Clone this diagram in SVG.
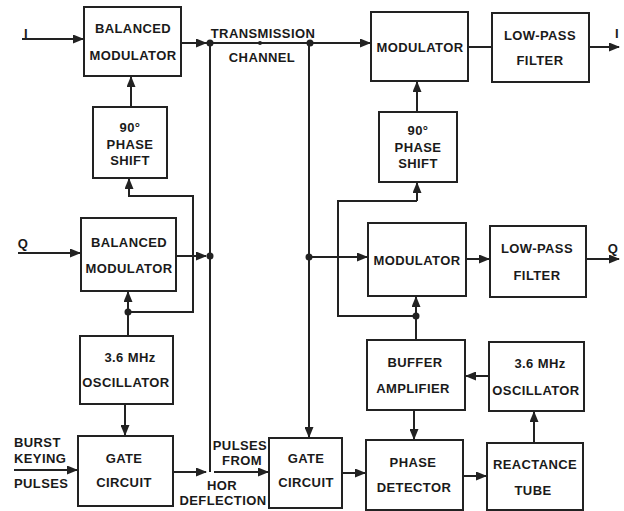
<svg xmlns="http://www.w3.org/2000/svg" width="624" height="511" viewBox="0 0 624 511">
<style>
.box{fill:#fff;stroke:#222;stroke-width:2}
.t{font-family:"Liberation Sans",Arial,sans-serif;font-weight:bold;font-size:13px;fill:#1a1a1a;text-anchor:middle;letter-spacing:0.4px}
.l{text-anchor:start}
.w{fill:none;stroke:#222;stroke-width:2}
.a{fill:none;stroke:#222;stroke-width:2;marker-end:url(#arr)}
.d{fill:#222}
</style>
<defs>
<marker id="arr" markerUnits="userSpaceOnUse" markerWidth="11" markerHeight="9" refX="10" refY="4.5" orient="auto">
<path d="M0,0 L11,4.5 L0,9 z" fill="#222"/>
</marker>
</defs>
<rect width="624" height="511" fill="#fff"/>

<g id="connectors">
<!-- I input -->
<line class="a" x1="22" y1="39" x2="83" y2="39"/>
<!-- BM1 out to transmission -->
<line class="a" x1="181" y1="43" x2="206" y2="43"/>
<line class="w" x1="205" y1="43" x2="312" y2="43"/>
<line class="a" x1="312" y1="43" x2="370" y2="43"/>
<circle class="d" cx="210" cy="43" r="3.5"/>
<circle class="d" cx="260" cy="43" r="2"/>
<circle class="d" cx="310" cy="43" r="3.5"/>
<!-- left vertical channel -->
<line class="w" x1="210" y1="43" x2="210" y2="472"/>
<circle class="d" cx="210" cy="256" r="3.5"/>
<!-- BM2 out -->
<line class="a" x1="176" y1="256" x2="206" y2="256"/>
<!-- left loop to phase shift -->
<polyline class="w" points="128,312 193,312 193,196 129,196 129,190"/>
<line class="a" x1="129" y1="196" x2="129" y2="179"/>
<circle class="d" cx="128" cy="312" r="3.5"/>
<line class="w" x1="128" y1="336" x2="128" y2="312"/>
<line class="a" x1="128" y1="312" x2="128" y2="292"/>
<!-- 90 phase shift left to BM1 -->
<line class="a" x1="131" y1="107" x2="131" y2="77"/>
<!-- osc left to gate -->
<line class="a" x1="125" y1="404" x2="125" y2="435"/>
<!-- Q input -->
<line class="a" x1="18" y1="253" x2="80" y2="253"/>
<!-- burst keying -->
<line class="a" x1="14" y1="470" x2="77" y2="470"/>
<!-- gate left output -->
<line class="a" x1="173" y1="472" x2="206" y2="472"/>
<!-- pulses from hor deflection -->
<line class="a" x1="214" y1="472" x2="268" y2="472"/>
<!-- right vertical channel -->
<line class="a" x1="309" y1="43" x2="309" y2="437"/>
<circle class="d" cx="309" cy="257" r="3.5"/>
<line class="a" x1="309" y1="257" x2="367" y2="257"/>
<!-- right loop -->
<polyline class="w" points="416,316 338,316 338,201 417,201"/>
<line class="a" x1="417" y1="201" x2="417" y2="183"/>
<circle class="d" cx="416" cy="316" r="3.5"/>
<line class="w" x1="416" y1="340" x2="416" y2="316"/>
<line class="a" x1="416" y1="316" x2="416" y2="297"/>
<!-- 90 phase shift right to Mod I -->
<line class="a" x1="417" y1="112" x2="417" y2="82"/>
<!-- Mod I to LPF I -->
<line class="w" x1="468" y1="47" x2="492" y2="47"/>
<line class="a" x1="589" y1="47" x2="619" y2="47"/>
<!-- Mod Q to LPF Q -->
<line class="a" x1="466" y1="259" x2="489" y2="259"/>
<line class="a" x1="586" y1="259" x2="619" y2="259"/>
<!-- osc right to buffer -->
<line class="a" x1="489" y1="376" x2="466" y2="376"/>
<!-- buffer to PD -->
<line class="a" x1="414" y1="410" x2="414" y2="439"/>
<!-- gate2 to PD -->
<line class="a" x1="342" y1="473" x2="365" y2="473"/>
<!-- PD to reactance -->
<line class="a" x1="463" y1="476" x2="486" y2="476"/>
<!-- reactance to osc -->
<line class="a" x1="534" y1="443" x2="534" y2="412"/>
</g>

<g id="bal-mod-i">
<rect class="box" x="84" y="7" width="97" height="69"/>
<text class="t" x="133" y="33">BALANCED</text>
<text class="t" x="133" y="60">MODULATOR</text>
</g>
<g id="phase-shift-left">
<rect class="box" x="93" y="107" width="74" height="71"/>
<text class="t" x="130" y="132">90°</text>
<text class="t" x="130" y="149">PHASE</text>
<text class="t" x="130" y="165">SHIFT</text>
</g>
<g id="bal-mod-q">
<rect class="box" x="81" y="218" width="95" height="73"/>
<text class="t" x="129" y="247">BALANCED</text>
<text class="t" x="129" y="273">MODULATOR</text>
</g>
<g id="osc-left">
<rect class="box" x="80" y="336" width="93" height="68"/>
<text class="t" x="130" y="362">3.6 MHz</text>
<text class="t" x="126" y="387">OSCILLATOR</text>
</g>
<g id="gate-left">
<rect class="box" x="78" y="436" width="95" height="70"/>
<text class="t" x="124" y="463">GATE</text>
<text class="t" x="124" y="487">CIRCUIT</text>
</g>
<g id="mod-i">
<rect class="box" x="371" y="12" width="97" height="69"/>
<text class="t" x="420" y="52">MODULATOR</text>
</g>
<g id="lpf-i">
<rect class="box" x="492" y="13" width="97" height="69"/>
<text class="t" x="540" y="40">LOW-PASS</text>
<text class="t" x="540" y="65">FILTER</text>
</g>
<g id="phase-shift-right">
<rect class="box" x="379" y="112" width="78" height="70"/>
<text class="t" x="418" y="135">90°</text>
<text class="t" x="418" y="152">PHASE</text>
<text class="t" x="418" y="168">SHIFT</text>
</g>
<g id="mod-q">
<rect class="box" x="368" y="223" width="98" height="73"/>
<text class="t" x="417" y="265">MODULATOR</text>
</g>
<g id="lpf-q">
<rect class="box" x="490" y="226" width="96" height="71"/>
<text class="t" x="537" y="253">LOW-PASS</text>
<text class="t" x="537" y="280">FILTER</text>
</g>
<g id="buffer">
<rect class="box" x="367" y="340" width="98" height="70"/>
<text class="t" x="415" y="367">BUFFER</text>
<text class="t" x="413" y="393">AMPLIFIER</text>
</g>
<g id="osc-right">
<rect class="box" x="489" y="342" width="95" height="69"/>
<text class="t" x="540" y="368">3.6 MHz</text>
<text class="t" x="536" y="395">OSCILLATOR</text>
</g>
<g id="gate-right">
<rect class="box" x="269" y="438" width="73" height="70"/>
<text class="t" x="306" y="463">GATE</text>
<text class="t" x="306" y="487">CIRCUIT</text>
</g>
<g id="phase-detector">
<rect class="box" x="366" y="440" width="97" height="70"/>
<text class="t" x="413" y="467">PHASE</text>
<text class="t" x="414" y="492">DETECTOR</text>
</g>
<g id="reactance-tube">
<rect class="box" x="487" y="443" width="96" height="67"/>
<text class="t" x="535" y="469">REACTANCE</text>
<text class="t" x="533" y="495">TUBE</text>
</g>

<g id="labels">
<text class="t" x="26" y="38">I</text>
<text class="t" x="23" y="248">Q</text>
<text class="t" x="617" y="38">I</text>
<text class="t" x="613" y="253">Q</text>
<text class="t" x="263" y="38">TRANSMISSION</text>
<text class="t" x="262" y="62">CHANNEL</text>
<text class="t l" x="14" y="447">BURST</text>
<text class="t l" x="14" y="463">KEYING</text>
<text class="t l" x="14" y="488">PULSES</text>
<text class="t" x="240" y="450">PULSES</text>
<text class="t" x="242" y="465">FROM</text>
<text class="t" x="222" y="490">HOR</text>
<text class="t" x="223" y="505">DEFLECTION</text>
</g>
</svg>
